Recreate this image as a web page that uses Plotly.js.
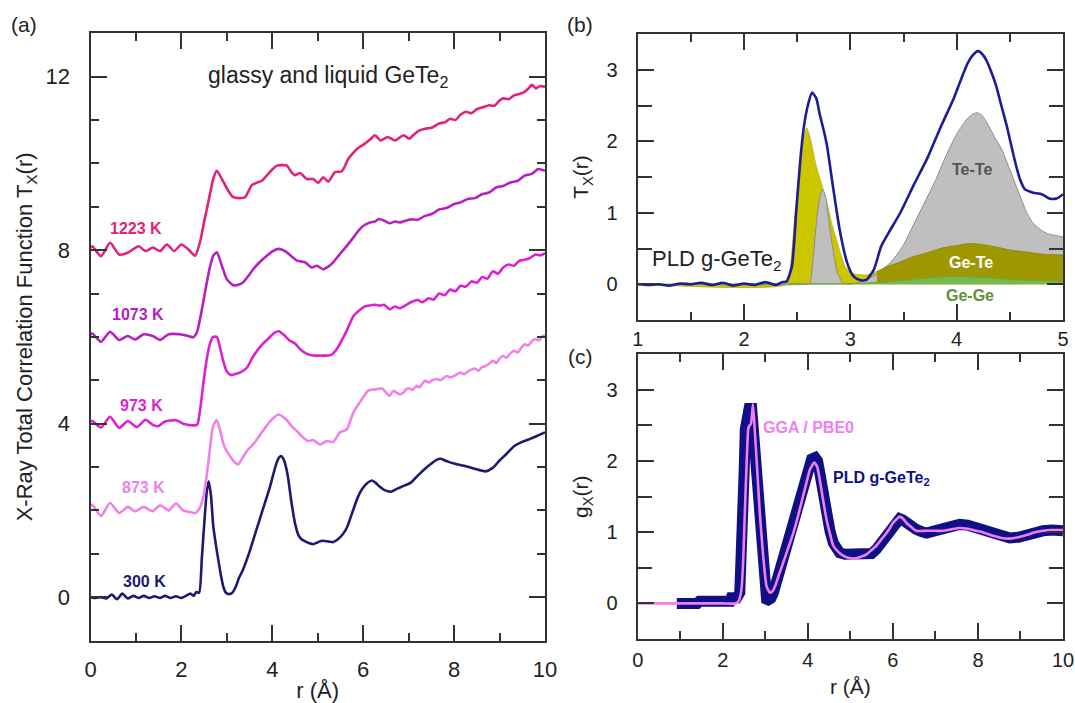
<!DOCTYPE html>
<html>
<head>
<meta charset="utf-8">
<script src="https://cdn.plot.ly/plotly-3.0.1.min.js"></script>
<style>
html,body{margin:0;padding:0;background:#fff;}
#chart{width:1075px;height:703px;}
</style>
</head>
<body>
<div id="chart"></div>
<script>
// ---------- Panel (a): X-ray total correlation functions T_X(r), offset curves ----------
const r300 = [0,0.12,0.23,0.35,0.47,0.58,0.7,0.82,0.94,1.06,1.17,1.29,1.41,1.53,1.64,1.76,1.88,2.0,2.1,2.2,2.27,2.33,2.39,2.45,2.51,2.56,2.6,2.65,2.7,2.76,2.81,2.87,2.92,2.98,3.05,3.12,3.2,3.27,3.35,3.5,3.65,3.8,3.95,4.08,4.15,4.2,4.26,4.34,4.42,4.5,4.58,4.66,4.74,4.82,4.9,4.97,5.05,5.12,5.24,5.34,5.45,5.55,5.64,5.76,5.88,5.97,6.06,6.13,6.19,6.27,6.36,6.45,6.55,6.62,6.75,6.9,7.05,7.2,7.35,7.5,7.62,7.71,7.85,8.0,8.22,8.45,8.69,8.85,9.0,9.15,9.32,9.5,9.7,9.85,10];
const t300 = [0,-0.02,0,-0.03,0.06,-0.05,0.08,-0.03,0.03,-0.02,0.03,-0.02,0.02,-0.02,0.03,-0.02,0.02,-0.02,0.03,0.08,0.03,0.12,0.1,0.9,1.8,2.45,2.67,2.35,1.65,1.2,0.87,0.5,0.25,0.1,0.07,0.1,0.25,0.45,0.62,1.05,1.55,2.05,2.55,3.05,3.22,3.25,3.15,2.8,2.2,1.7,1.42,1.32,1.28,1.24,1.22,1.25,1.29,1.3,1.28,1.27,1.34,1.45,1.6,1.95,2.3,2.48,2.6,2.66,2.69,2.64,2.55,2.48,2.44,2.43,2.5,2.57,2.64,2.8,2.95,3.08,3.17,3.19,3.13,3.08,3.03,2.96,2.9,2.98,3.15,3.3,3.48,3.58,3.66,3.73,3.8];

const r873 = [0,0.04,0.23,0.43,0.63,0.82,0.98,1.17,1.37,1.53,1.72,1.88,2.04,2.2,2.31,2.4,2.48,2.55,2.62,2.7,2.78,2.85,2.92,2.98,3.07,3.18,3.25,3.35,3.44,3.58,3.77,3.95,4.13,4.3,4.42,4.54,4.66,4.79,4.9,5.05,5.2,5.34,5.49,5.64,5.78,5.97,6.11,6.26,6.42,6.5,6.58,6.66,6.73,6.81,6.89,6.95,7.01,7.09,7.17,7.24,7.36,7.44,7.52,7.6,7.7,7.83,7.91,8.0,8.14,8.22,8.3,8.46,8.54,8.61,8.69,8.77,8.85,8.93,9.0,9.08,9.16,9.24,9.32,9.4,9.48,9.55,9.63,9.71,9.79,9.87,9.93,10];
const t873 = [2.1,2.13,1.87,2.17,1.94,2.08,1.98,2.08,1.98,2.12,2.0,2.16,2.0,1.96,1.94,2.05,2.3,2.75,3.35,3.95,4.08,3.85,3.55,3.4,3.25,3.1,3.06,3.22,3.37,3.52,3.8,4.05,4.21,4.1,3.95,3.83,3.7,3.6,3.62,3.52,3.6,3.58,3.8,3.87,4.25,4.56,4.76,4.79,4.81,4.72,4.64,4.76,4.72,4.68,4.72,4.8,4.81,4.78,4.87,4.84,4.99,4.95,5.0,5.03,5.0,5.1,5.07,5.1,5.18,5.14,5.2,5.27,5.22,5.3,5.33,5.38,5.45,5.4,5.5,5.56,5.52,5.62,5.68,5.64,5.75,5.83,5.8,5.9,5.95,5.92,6.0,6.03];

const r973 = [0,0.04,0.23,0.43,0.63,0.82,1.02,1.21,1.37,1.49,1.64,1.88,2.04,2.27,2.35,2.41,2.48,2.56,2.63,2.7,2.78,2.85,2.92,3.0,3.09,3.17,3.3,3.45,3.55,3.68,3.8,3.92,4.05,4.15,4.25,4.39,4.5,4.61,4.74,4.9,5.05,5.23,5.32,5.42,5.52,5.64,5.78,5.9,6.03,6.11,6.26,6.37,6.46,6.58,6.7,6.81,6.95,7.05,7.2,7.3,7.44,7.55,7.67,7.79,7.91,8.03,8.14,8.26,8.38,8.5,8.62,8.73,8.85,8.97,9.08,9.2,9.32,9.43,9.55,9.67,9.79,9.9,10];
const t973 = [4.05,4.06,3.91,4.16,3.9,4.06,3.92,4.09,3.97,3.94,4.05,4.08,4.0,3.96,3.98,4.3,4.9,5.5,5.85,6.0,6.0,5.75,5.45,5.2,5.12,5.14,5.18,5.3,5.5,5.7,5.85,5.97,6.1,6.13,6.05,5.91,5.85,5.72,5.62,5.57,5.57,5.57,5.6,5.72,5.9,6.15,6.47,6.6,6.7,6.72,6.74,6.72,6.74,6.64,6.7,6.66,6.74,6.8,6.85,6.8,6.89,6.86,7.0,6.96,7.09,7.05,7.18,7.16,7.28,7.25,7.38,7.34,7.51,7.46,7.6,7.67,7.64,7.75,7.78,7.82,7.9,7.88,7.93];

const r1073 = [0,0.04,0.23,0.43,0.63,0.82,0.98,1.17,1.37,1.53,1.72,1.96,2.15,2.26,2.34,2.41,2.48,2.56,2.63,2.7,2.78,2.89,3.0,3.14,3.25,3.36,3.47,3.58,3.72,3.88,4.0,4.13,4.22,4.32,4.43,4.54,4.63,4.72,4.87,4.98,5.12,5.23,5.34,5.48,5.64,5.79,5.93,6.03,6.15,6.26,6.34,6.46,6.58,6.7,6.81,6.93,7.05,7.2,7.36,7.52,7.67,7.83,7.99,8.14,8.3,8.46,8.61,8.77,8.93,9.08,9.24,9.4,9.55,9.71,9.85,10];
const t1073 = [6.05,6.08,5.89,6.12,5.93,6.02,5.94,6.06,6.02,5.93,6.06,6.06,6.02,5.99,6.1,6.41,6.8,7.26,7.62,7.87,7.95,7.64,7.33,7.19,7.2,7.26,7.4,7.56,7.72,7.87,7.97,8.03,8.01,7.95,7.85,7.76,7.74,7.72,7.6,7.64,7.56,7.62,7.72,7.9,8.1,8.3,8.49,8.58,8.64,8.66,8.72,8.68,8.62,8.66,8.64,8.68,8.71,8.7,8.79,8.84,8.94,8.97,9.06,9.1,9.18,9.2,9.29,9.33,9.45,9.48,9.56,9.6,9.72,9.76,9.87,9.83];

const r1223 = [0,0.04,0.23,0.43,0.63,0.82,1.06,1.21,1.37,1.53,1.68,1.84,2.0,2.15,2.3,2.41,2.48,2.56,2.63,2.7,2.78,2.89,3.03,3.14,3.27,3.4,3.55,3.65,3.77,3.91,4.0,4.1,4.2,4.32,4.42,4.5,4.61,4.76,4.9,5.01,5.12,5.23,5.38,5.53,5.67,5.76,5.88,6.03,6.15,6.26,6.38,6.54,6.7,6.89,7.01,7.13,7.24,7.36,7.5,7.67,7.8,7.91,8.03,8.14,8.26,8.38,8.5,8.65,8.77,8.89,9.0,9.08,9.2,9.32,9.43,9.55,9.63,9.71,9.8,9.88,10];
const t1223 = [8.05,8.09,7.86,8.17,7.9,7.94,8.09,7.98,8.06,7.98,8.13,7.98,8.13,8.02,7.87,8.19,8.55,8.95,9.3,9.64,9.83,9.64,9.37,9.22,9.2,9.22,9.5,9.55,9.6,9.76,9.86,9.95,9.96,9.95,9.8,9.73,9.78,9.64,9.64,9.55,9.68,9.58,9.8,9.82,10.1,10.22,10.35,10.45,10.55,10.65,10.53,10.61,10.53,10.65,10.57,10.68,10.76,10.8,10.82,10.92,10.95,11.03,11.0,11.12,11.19,11.16,11.25,11.3,11.34,11.33,11.45,11.5,11.48,11.57,11.6,11.65,11.72,11.81,11.73,11.78,11.77];

const tempLabels = ["300 K","873 K","973 K","1073 K","1223 K"];

// ---------- Panel (b): PLD g-GeTe2 T_X(r) with partials ----------
const rTotal = [1.0,1.1,1.2,1.3,1.4,1.5,1.6,1.7,1.8,1.9,2.0,2.1,2.2,2.3,2.36,2.4,2.45,2.49,2.53,2.56,2.6,2.64,2.68,2.71,2.75,2.78,2.84,2.9,2.97,3.03,3.09,3.15,3.22,3.29,3.36,3.47,3.6,3.72,3.85,3.97,4.05,4.1,4.15,4.2,4.24,4.28,4.33,4.37,4.42,4.47,4.52,4.56,4.6,4.64,4.68,4.72,4.8,4.87,4.94,5.0];
const tTotal = [0.0,-0.01,0.0,-0.02,0.01,0.0,0.02,-0.01,0.02,-0.02,0.01,-0.01,0.03,-0.01,0.03,0.04,0.25,1.0,1.75,2.17,2.5,2.68,2.6,2.39,2.15,1.94,1.33,0.76,0.3,0.11,0.06,0.06,0.2,0.53,0.72,1.0,1.4,1.75,2.2,2.59,2.9,3.08,3.2,3.26,3.22,3.13,2.95,2.78,2.5,2.22,1.9,1.65,1.45,1.33,1.3,1.28,1.26,1.2,1.2,1.26];

const rTeTe = [1.0,2.58,2.62,2.65,2.68,2.71,2.74,2.77,2.8,2.84,2.88,2.93,3.0,3.1,3.2,3.3,3.4,3.5,3.6,3.7,3.8,3.9,4.0,4.08,4.14,4.19,4.24,4.3,4.36,4.42,4.48,4.54,4.6,4.66,4.72,4.8,4.87,4.94,5.0];
const tTeTe = [0,0,0.02,0.35,0.86,1.2,1.33,1.2,0.86,0.45,0.15,0.02,0,0.03,0.1,0.2,0.34,0.55,0.85,1.15,1.45,1.8,2.1,2.28,2.37,2.4,2.36,2.22,2.05,1.9,1.68,1.45,1.22,1.0,0.85,0.75,0.7,0.68,0.66];

const rGeTe = [1.0,2.4,2.44,2.48,2.53,2.56,2.59,2.63,2.68,2.73,2.78,2.83,2.87,2.91,2.95,3.0,3.05,3.15,3.25,3.35,3.45,3.56,3.72,3.87,4.03,4.12,4.22,4.34,4.5,4.66,4.81,5.0];
const tGeTe = [0,0,0.3,1.0,1.7,2.05,2.19,2.0,1.65,1.4,1.14,0.82,0.62,0.42,0.25,0.17,0.14,0.13,0.18,0.25,0.3,0.37,0.44,0.51,0.55,0.57,0.56,0.53,0.48,0.45,0.42,0.41];

const rGeGe = [1.0,2.4,3.0,3.2,3.4,3.6,3.8,4.0,4.2,4.4,4.6,4.8,5.0];
const tGeGe = [0,0.005,0.01,0.02,0.04,0.07,0.1,0.11,0.1,0.08,0.06,0.05,0.04];

// ---------- Panel (c): g_X(r) experiment vs simulation ----------
const rPLD = [0.92,1.0,1.2,1.4,1.45,1.6,1.8,1.95,2.0,2.17,2.2,2.33,2.4,2.44,2.47,2.5,2.53,2.56,2.62,2.68,2.72,2.76,2.8,2.83,2.87,2.91,2.95,2.99,3.03,3.07,3.13,3.19,3.26,3.34,3.46,3.58,3.7,3.81,3.9,3.97,4.03,4.09,4.17,4.23,4.28,4.36,4.44,4.52,4.6,4.68,4.75,4.87,4.99,5.1,5.22,5.38,5.5,5.61,5.73,5.85,5.93,6.0,6.08,6.16,6.24,6.32,6.44,6.55,6.67,6.79,6.98,7.18,7.37,7.57,7.76,7.96,8.16,8.36,8.55,8.75,8.95,9.14,9.34,9.53,9.75,10];
const gPLD = [0,0,-0.01,0,0.03,0.03,0.0,0.0,0.03,0.03,0.08,0.08,0.15,0.6,1.04,1.8,2.45,2.74,2.74,2.74,2.4,1.98,1.6,1.28,0.92,0.57,0.3,0.15,0.06,0.05,0.07,0.15,0.3,0.48,0.72,0.95,1.2,1.42,1.65,1.84,1.95,2.03,2.05,2.0,1.84,1.5,1.23,1.02,0.85,0.76,0.71,0.69,0.69,0.68,0.67,0.67,0.7,0.76,0.85,0.95,1.03,1.11,1.16,1.19,1.17,1.13,1.08,1.04,1.01,0.99,1.02,1.06,1.09,1.11,1.1,1.06,1.02,0.97,0.94,0.92,0.93,0.97,1.0,1.02,1.03,1.02];

const rGGA = [0,0.5,1.0,1.5,2.0,2.3,2.38,2.44,2.48,2.52,2.56,2.6,2.63,2.66,2.68,2.71,2.75,2.8,2.87,2.95,3.03,3.11,3.18,3.23,3.32,3.42,3.54,3.66,3.78,3.89,3.97,4.05,4.15,4.22,4.28,4.36,4.44,4.52,4.6,4.72,4.83,4.95,5.07,5.22,5.38,5.5,5.61,5.73,5.85,5.93,6.0,6.08,6.16,6.24,6.32,6.44,6.55,6.79,6.98,7.18,7.37,7.57,7.76,7.96,8.16,8.36,8.55,8.75,8.95,9.14,9.34,9.53,9.75,10];
const gGGA = [0,0,0,0,0,0,0.04,0.2,0.6,1.3,1.95,2.45,2.5,2.52,2.6,2.8,2.45,1.98,1.28,0.67,0.24,0.15,0.18,0.24,0.4,0.57,0.78,0.99,1.25,1.51,1.7,1.88,1.98,1.92,1.74,1.45,1.18,0.98,0.81,0.72,0.67,0.64,0.63,0.65,0.69,0.75,0.81,0.9,0.99,1.06,1.13,1.18,1.22,1.19,1.13,1.07,1.02,1.02,1.02,1.02,1.04,1.06,1.05,1.02,0.99,0.95,0.92,0.91,0.93,0.96,1.0,1.02,1.03,1.03];

// ---------- styling ----------
const W = 1075, H = 703;
const px = x => x / W;
const py = y => 1 - y / H;
const FONT = 'Liberation Sans, Arial, Helvetica, sans-serif';
const AX = '#333333';

const colA = {"300 K":'#1b1b70',"873 K":'#ef80ec',"973 K":'#de1fd2',"1073 K":'#b421bf',"1223 K":'#e2227a'};
const seriesA = [[r300,t300,"300 K"],[r873,t873,"873 K"],[r973,t973,"973 K"],[r1073,t1073,"1073 K"],[r1223,t1223,"1223 K"]];

const traces = [];
seriesA.forEach(([x,y,name]) => traces.push({x:x,y:y,name:name,type:'scatter',mode:'lines',
  line:{color:colA[name],width:2.6,shape:'spline',smoothing:0.6},xaxis:'x',yaxis:'y',hoverinfo:'skip'}));

// split Ge-Te partial into first shell (bright) and outer (dark olive)
const geteIn = rGeTe.map((r,i)=>[r,tGeTe[i]]).filter(p=>p[0]<=3.25);
const geteOut = rGeTe.map((r,i)=>[r,tGeTe[i]]).filter(p=>p[0]>=3.25);

traces.push({x:geteIn.map(p=>p[0]),y:geteIn.map(p=>p[1]),type:'scatter',mode:'lines',fill:'tozeroy',
  fillcolor:'#ccc600',line:{color:'#b8b200',width:0.8,shape:'spline',smoothing:0.5},xaxis:'x2',yaxis:'y2',hoverinfo:'skip'});
traces.push({x:rTeTe,y:tTeTe,type:'scatter',mode:'lines',fill:'tozeroy',fillcolor:'#bfbfbf',
  line:{color:'#8c8c8c',width:1,shape:'spline',smoothing:0.5},xaxis:'x2',yaxis:'y2',hoverinfo:'skip'});
traces.push({x:geteOut.map(p=>p[0]),y:geteOut.map(p=>p[1]),type:'scatter',mode:'lines',fill:'tozeroy',
  fillcolor:'#9f9700',line:{color:'#8a8300',width:0.8,shape:'spline',smoothing:0.5},xaxis:'x2',yaxis:'y2',hoverinfo:'skip'});
traces.push({x:rGeGe,y:tGeGe,type:'scatter',mode:'lines',fill:'tozeroy',fillcolor:'#79b84a',
  line:{color:'#6aa83e',width:1.2,shape:'spline'},xaxis:'x2',yaxis:'y2',hoverinfo:'skip'});
traces.push({x:rTotal,y:tTotal,type:'scatter',mode:'lines',line:{color:'#1c1c96',width:2.6,shape:'spline',smoothing:0.6},
  xaxis:'x2',yaxis:'y2',hoverinfo:'skip'});

traces.push({x:rPLD,y:gPLD,type:'scatter',mode:'lines',line:{color:'#0f0f86',width:11,shape:'linear'},
  xaxis:'x3',yaxis:'y3',hoverinfo:'skip'});
traces.push({x:rGGA,y:gGGA,type:'scatter',mode:'lines',line:{color:'#f07ef0',width:2.6,shape:'spline',smoothing:0.5},
  xaxis:'x3',yaxis:'y3',hoverinfo:'skip'});

function axis(o){
  return Object.assign({
    showline:true, linecolor:AX, linewidth:2, mirror:'allticks',
    ticks:'inside', ticklen:16, tickwidth:2, tickcolor:AX,
    showgrid:false, zeroline:false, automargin:false, fixedrange:true,
    tickfont:{family:FONT,size:20,color:'#222'}
  }, o);
}

const layout = {
  width:W, height:H, margin:{l:0,r:0,t:0,b:0},
  paper_bgcolor:'#fff', plot_bgcolor:'#fff', showlegend:false,
  font:{family:FONT,color:'#222'},
  xaxis: axis({domain:[px(90.5),px(545)], range:[0,10], tick0:0, dtick:2, anchor:'y',
    minor:{dtick:1,ticks:'inside',ticklen:8,tickwidth:2,tickcolor:AX},
    tickfont:{family:FONT,size:22,color:'#222'}, ticklabelstandoff:8,
    title:{text:'r (Å)',font:{family:FONT,size:22,color:'#222'},standoff:6}}),
  yaxis: axis({domain:[py(640.5),py(33.3)], range:[-1,13], tick0:0, dtick:4, anchor:'x',
    minor:{dtick:1,ticks:'inside',ticklen:8,tickwidth:2,tickcolor:AX},
    tickfont:{family:FONT,size:22,color:'#222'}, ticklabelstandoff:14,
    title:{text:'X-Ray Total Correlation Function T<sub>X</sub>(r)',font:{family:FONT,size:22,color:'#222'},standoff:7}}),
  xaxis2: axis({domain:[px(637.7),px(1063)], range:[1,5], tick0:1, dtick:1, anchor:'y2',
    minor:{dtick:0.5,ticks:'inside',ticklen:8,tickwidth:2,tickcolor:AX}, ticklabelstandoff:0}),
  yaxis2: axis({domain:[py(320),py(34)], range:[-0.5,3.5], tick0:0, dtick:1, anchor:'x2',
    minor:{dtick:0.5,ticks:'inside',ticklen:14,tickwidth:2,tickcolor:AX}, ticklabelstandoff:14,
    title:{text:'T<sub>X</sub>(r)',font:{family:FONT,size:21,color:'#222'},standoff:12}}),
  xaxis3: axis({domain:[px(637.7),px(1063)], range:[0,10], tick0:0, dtick:2, anchor:'y3',
    minor:{dtick:1,ticks:'inside',ticklen:8,tickwidth:2,tickcolor:AX}, ticklabelstandoff:2,
    title:{text:'r (Å)',font:{family:FONT,size:21,color:'#222'},standoff:9}}),
  yaxis3: axis({domain:[py(639),py(354.3)], range:[-0.5,3.5], tick0:0, dtick:1, anchor:'x3',
    minor:{dtick:0.5,ticks:'inside',ticklen:14,tickwidth:2,tickcolor:AX}, ticklabelstandoff:14,
    title:{text:'g<sub>X</sub>(r)',font:{family:FONT,size:21,color:'#222'},standoff:12}}),
  annotations: []
};

function note(text,x,y,size,color,bold){
  layout.annotations.push({text: bold ? '<b>'+text+'</b>' : text, xref:'paper', yref:'paper',
    x:px(x), y:py(y), xanchor:'center', yanchor:'middle', showarrow:false,
    font:{family:FONT,size:size,color:color}});
}
note('(a)',24,24,21,'#222',false);
note('(b)',580,24,21,'#222',false);
note('(c)',580,357,21,'#222',false);
note('glassy and liquid GeTe<sub>2</sub>',328,77,23,'#222',false);
const labPos = {"1223 K":[136,228],"1073 K":[137.5,315],"973 K":[141,405],"873 K":[143,487],"300 K":[144,581]};
tempLabels.forEach(n => note(n,labPos[n][0],labPos[n][1],16,colA[n],true));
note('PLD g-GeTe<sub>2</sub>',717,260,22,'#222',false);
note('Te-Te',972,169,16,'#555555',true);
note('Ge-Te',971,262,16,'#ffffff',true);
note('Ge-Ge',970,295,16,'#5f9136',true);
note('GGA / PBE0',808,427,16,'#f07ef0',true);
note('PLD g-GeTe<sub>2</sub>',881,478,16,'#0f0f86',true);

Plotly.newPlot('chart', traces, layout, {staticPlot:true, displayModeBar:false});
</script>
</body>
</html>
